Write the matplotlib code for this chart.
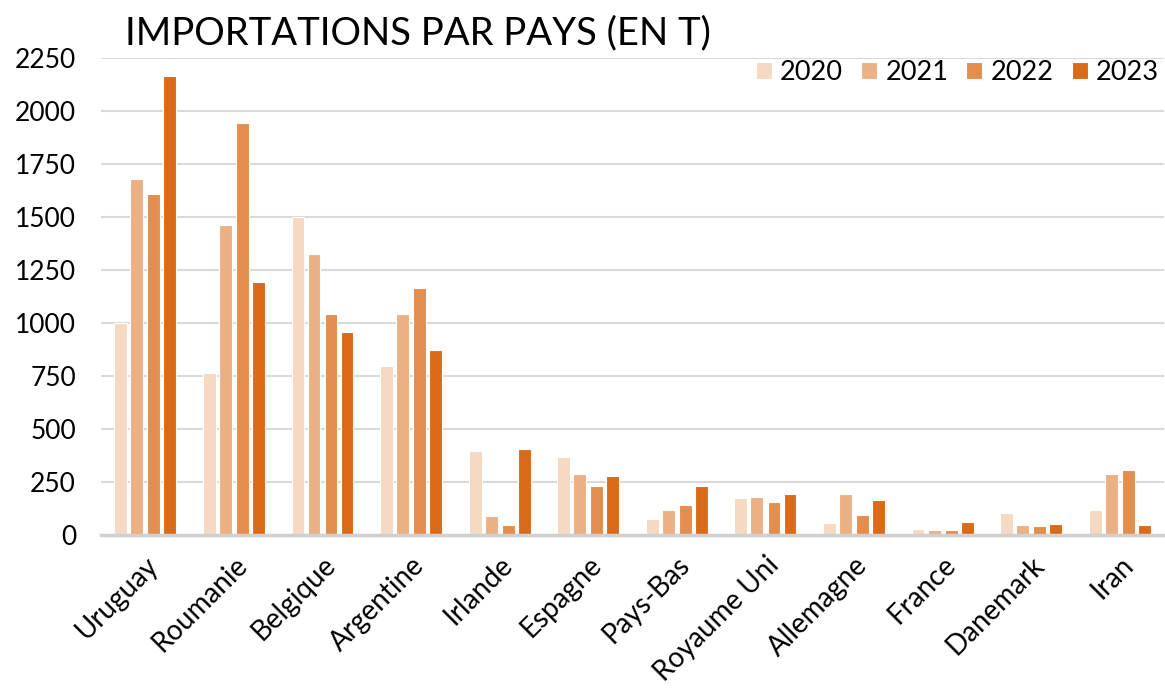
import matplotlib
matplotlib.use("Agg")
import matplotlib.pyplot as plt
import numpy as np

plt.rcParams['font.family'] = ['Lato', 'DejaVu Sans']

countries = ["Uruguay", "Roumanie", "Belgique", "Argentine", "Irlande", "Espagne",
             "Pays-Bas", "Royaume Uni", "Allemagne", "France", "Danemark", "Iran"]
years = ["2020", "2021", "2022", "2023"]
v2020 = [1000, 763, 1501, 797, 398, 369, 75, 175, 57, 30, 102, 118]
v2021 = [1678, 1462, 1327, 1042, 88, 288, 118, 179, 193, 24, 49, 288]
v2022 = [1610, 1945, 1044, 1165, 46, 233, 141, 156, 94, 24, 42, 307]
v2023 = [2165, 1195, 957, 871, 404, 277, 230, 193, 167, 63, 52, 47]
series = [v2020, v2021, v2022, v2023]
colors = ["#F5D9C3", "#EBB185", "#E38D4E", "#DA6A17"]

fig = plt.figure(figsize=(11.65, 6.89), dpi=100)
ax = fig.add_axes([0.0867, 0.2235, 0.9125, 0.6923])

x = np.arange(len(countries))
offsets = [-0.277, -0.096, 0.096, 0.277]
width = 0.145
for vals, off, col, yr in zip(series, offsets, colors, years):
    ax.bar(x + off, vals, width=width, color=col, edgecolor="white",
           linewidth=0.8, label=yr, zorder=3)

ax.set_xlim(-0.5, len(countries) - 0.5)
ax.set_ylim(0, 2250)
ax.set_yticks(np.arange(0, 2251, 250))
ax.tick_params(axis='y', length=0, labelsize=19, pad=18)
ax.set_xticks(x)
ax.set_xticklabels(countries, rotation=45, ha='right', rotation_mode='anchor',
                   fontsize=20)
ax.tick_params(axis='x', length=0, pad=12)
ax.grid(axis='y', color='#D9D9D9', linewidth=1.5, zorder=0)
for s in ['top', 'right', 'left']:
    ax.spines[s].set_visible(False)
ax.spines['bottom'].set_color('#D0D0D0')
ax.spines['bottom'].set_linewidth(2.5)
ax.spines['bottom'].set_zorder(4)

fig.text(0.107, 0.935, "IMPORTATIONS PAR PAYS (EN T)", fontsize=27.5,
         ha='left', va='baseline', color='black')

leg = ax.legend(loc='center right', bbox_to_anchor=(0.995, 0.9686), ncol=4,
                frameon=False, fontsize=19.5, handlelength=0.59, handleheight=0.59,
                handletextpad=0.3, columnspacing=0.67, borderaxespad=0.0,
                borderpad=0.0)

fig.savefig("out.png", dpi=100, facecolor='white')
